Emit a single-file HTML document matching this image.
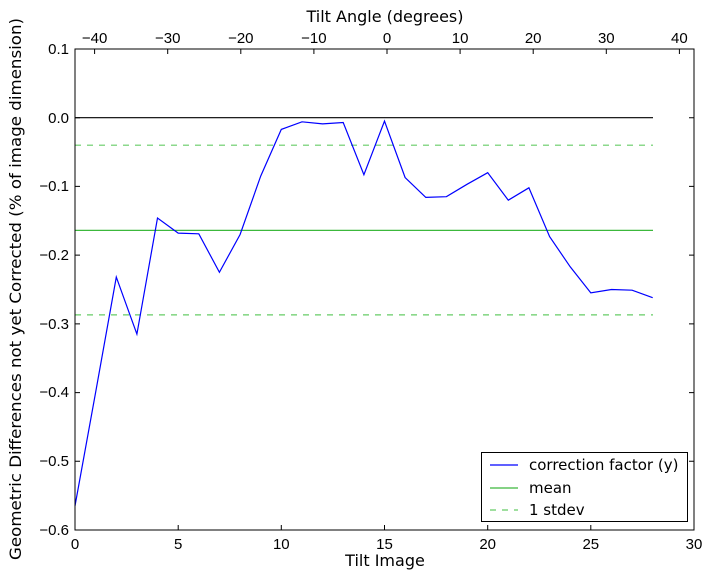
<!DOCTYPE html>
<html><head><meta charset="utf-8"><style>
html,body{margin:0;padding:0;background:#fff;}
svg{display:block;font-family:"Liberation Sans","DejaVu Sans",sans-serif;}
.dj{font-family:"DejaVu Sans","Liberation Sans",sans-serif;}
</style></head><body>
<svg width="714" height="579" viewBox="0 0 714 579" xmlns="http://www.w3.org/2000/svg">
<rect width="714" height="579" fill="#fff"/>
<g stroke="#000" stroke-width="1">
<path d="M75,530v-5M178.2,530v-5M281.3,530v-5M384.5,530v-5M487.7,530v-5M590.8,530v-5M694,530v-5"/>
<path d="M94.6,49v5M167.7,49v5M240.8,49v5M313.9,49v5M387,49v5M460.1,49v5M533.2,49v5M606.3,49v5M679.4,49v5"/>
<path d="M75,49h5M75,117.7h5M75,186.4h5M75,255.1h5M75,323.9h5M75,392.6h5M75,461.3h5M75,530h5"/>
<path d="M694,49h-5M694,117.7h-5M694,186.4h-5M694,255.1h-5M694,323.9h-5M694,392.6h-5M694,461.3h-5M694,530h-5"/>
</g>
<line x1="75" y1="117.7" x2="653" y2="117.7" stroke="#000" stroke-width="1.2"/>
<line x1="75" y1="230.4" x2="653" y2="230.4" stroke="#3cb83c" stroke-width="1.2"/>
<line x1="75" y1="145.2" x2="653" y2="145.2" stroke="#6c6" stroke-width="1.2" stroke-dasharray="6,6"/>
<line x1="75" y1="314.9" x2="653" y2="314.9" stroke="#6c6" stroke-width="1.2" stroke-dasharray="6,6"/>
<polyline fill="none" stroke="#0000ff" stroke-width="1.2" points="75,505.9 95.6,392.5 116.3,277.1 136.9,334.1 157.5,218 178.2,233.1 198.8,233.8 219.4,272.3 240.1,234.5 260.7,176.1 281.3,129.4 302,121.8 322.6,123.9 343.2,122.5 363.9,174.7 384.5,121.1 405.1,177.5 425.8,197.4 446.4,196.7 467,184.3 487.7,172.7 508.3,200.2 528.9,187.8 549.6,236.6 570.2,266.8 590.8,292.9 611.5,289.5 632.1,290.2 652.7,297.7"/>
<rect x="75" y="49" width="619" height="481" fill="none" stroke="#000" stroke-width="1"/>
<g font-size="15" fill="#000" text-anchor="middle">
<text x="75" y="549">0</text><text x="178.2" y="549">5</text><text x="281.3" y="549">10</text><text x="384.5" y="549">15</text><text x="487.7" y="549">20</text><text x="590.8" y="549">25</text><text x="694" y="549">30</text>
<text x="94.6" y="43">−40</text><text x="167.7" y="43">−30</text><text x="240.8" y="43">−20</text><text x="313.9" y="43">−10</text><text x="387" y="43">0</text><text x="460.1" y="43">10</text><text x="533.2" y="43">20</text><text x="606.3" y="43">30</text><text x="679.4" y="43">40</text>
</g>
<g class="dj" font-size="16" fill="#000" text-anchor="middle">
<text x="385" y="566">Tilt Image</text>
<text x="385" y="22">Tilt Angle (degrees)</text>
</g>
<g font-size="15" fill="#000" text-anchor="end">
<text x="69" y="54">0.1</text><text x="69" y="123">0.0</text><text x="69" y="191">−0.1</text><text x="69" y="260">−0.2</text><text x="69" y="329">−0.3</text><text x="69" y="397">−0.4</text><text x="69" y="466">−0.5</text><text x="69" y="535">−0.6</text>
</g>
<text class="dj" transform="translate(21,289) rotate(-90)" font-size="16" text-anchor="middle" textLength="542" lengthAdjust="spacingAndGlyphs">Geometric Differences not yet Corrected (% of image dimension)</text>
<rect x="481.5" y="452.5" width="206" height="69" fill="#fff" stroke="#000"/>
<line x1="490" y1="465" x2="518" y2="465" stroke="#0000ff" stroke-width="1.2"/>
<line x1="490" y1="488" x2="518" y2="488" stroke="#3cb83c" stroke-width="1.2"/>
<line x1="490" y1="510" x2="518" y2="510" stroke="#6c6" stroke-width="1.2" stroke-dasharray="6,6"/>
<g class="dj" font-size="15">
<text x="529" y="470">correction factor (y)</text>
<text x="529" y="493">mean</text>
<text x="529" y="515">1 stdev</text>
</g>
</svg>
</body></html>
